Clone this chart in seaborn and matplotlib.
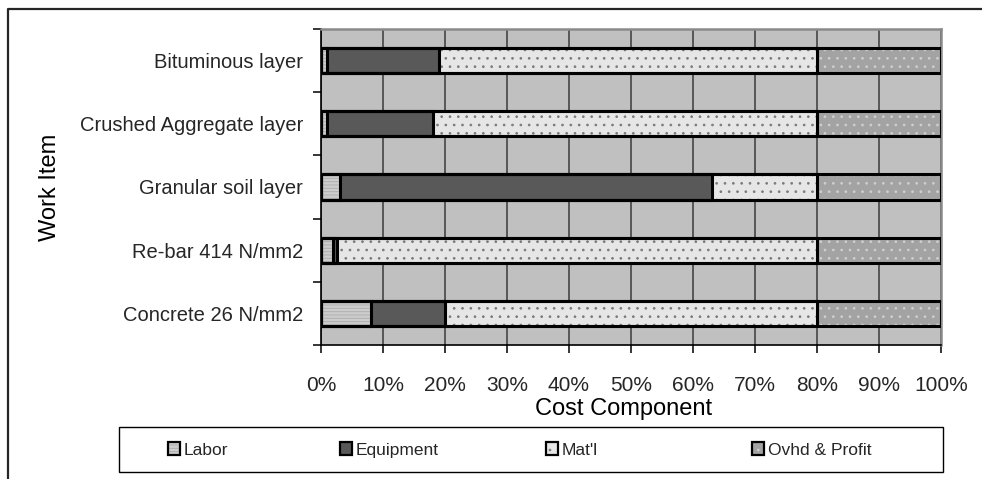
import matplotlib
matplotlib.use("Agg")
import matplotlib.pyplot as plt
from matplotlib.patches import Rectangle, Patch
from matplotlib.lines import Line2D
from matplotlib.legend_handler import HandlerTuple
from matplotlib import font_manager
import pandas as pd
import seaborn as sns

# Cost breakdown (% of unit cost) per work item
work_items = ["Bituminous layer", "Crushed Aggregate layer", "Granular soil layer",
              "Re-bar 414 N/mm2", "Concrete 26 N/mm2"]
labor = [1.0, 1.0, 3.0, 2.0, 8.0]
equipment = [18.0, 17.0, 60.0, 0.6, 12.0]
material = [61.0, 62.0, 17.0, 77.4, 60.0]
overhead = [20.0, 20.0, 20.0, 20.0, 20.0]
components = ["Labor", "Equipment", "Mat'l", "Ovhd & Profit"]
x_ticks = list(range(0, 101, 10))
x_tick_labels = [f"{v}%" for v in x_ticks]

sns.set_theme(style="ticks")
names = {f.name for f in font_manager.fontManager.ttflist}
NARROW = "Liberation Sans Narrow" in names
if NARROW:
    plt.rcParams["font.family"] = ["Liberation Sans Narrow", "Liberation Sans", "DejaVu Sans"]
    fs_tick, fs_cat, fs_title, fs_leg = 18.0, 17.5, 20.5, 16.0
else:
    plt.rcParams["font.family"] = ["Liberation Sans", "DejaVu Sans"]
    fs_tick, fs_cat, fs_title, fs_leg = 15.0, 14.5, 17.0, 12.5
plt.rcParams["hatch.linewidth"] = 0.7

df = pd.DataFrame({"item": work_items, "Labor": labor, "Equipment": equipment,
                   "Mat'l": material, "Ovhd & Profit": overhead})
cum = df[components].cumsum(axis=1)
cum.insert(0, "item", df["item"])

# fill colour, hatch colour, hatch pattern
styles = {
    "Labor": ("#CDCDCD", "#AFAFAF", "-----"),
    "Equipment": ("#595959", "#595959", ""),
    "Mat'l": ("#E6E6E6", "#7A7A7A", ".."),
    "Ovhd & Profit": ("#A3A3A3", "#D0D0D0", ".."),
}

fig = plt.figure(figsize=(9.82, 4.79), dpi=100)
fig.patch.set_facecolor("white")
ax = fig.add_axes([321 / 982, 1 - 345 / 479, 620 / 982, 316 / 479])
ax.set_facecolor("#C0C0C0")

# Stacked bars: draw cumulative totals from the widest down so each segment shows
for comp in reversed(components):
    fill, hcol, hatch = styles[comp]
    sns.barplot(data=cum, x=comp, y="item", order=work_items, orient="h",
                color=fill, saturation=1, width=0.4, errorbar=None,
                edgecolor=hcol, linewidth=0, hatch=hatch, ax=ax, zorder=2)

# Black outlines around every segment
for p in list(ax.patches):
    ax.add_patch(Rectangle(p.get_xy(), p.get_width(), p.get_height(),
                           fill=False, edgecolor="black", linewidth=2.2, zorder=3))

ax.set_xlim(0, 100)
ax.set_ylim(len(work_items) - 0.5, -0.5)
ax.set_axisbelow(True)
ax.xaxis.grid(True, color="#3A3A3A", linewidth=1.1, zorder=0)
ax.yaxis.grid(False)

ax.set_xticks(x_ticks)
ax.set_xticklabels(x_tick_labels, fontsize=fs_tick)
ax.tick_params(axis="x", direction="out", length=6, width=1.1, color="black",
               pad=14 if NARROW else 16)
ax.set_yticks(range(len(work_items)))
ax.set_yticklabels(work_items, fontsize=fs_cat)
ax.tick_params(axis="y", which="major", length=0, pad=13)
ax.set_yticks([i - 0.5 for i in range(len(work_items) + 1)], minor=True)
ax.tick_params(axis="y", which="minor", direction="out", length=6, width=1.1, color="black")

for s in ("left", "bottom"):
    ax.spines[s].set_color("black")
    ax.spines[s].set_linewidth(1.2)
for s in ("top", "right"):
    ax.spines[s].set_color("#8A8A8A")
    ax.spines[s].set_linewidth(1.8)

ax.set_xlabel("Cost Component", fontsize=fs_title, color="black")
ax.xaxis.set_label_coords((624 - 321) / 620, (345 - 409) / 316)
ax.xaxis.label.set_va("center")
ax.set_ylabel("Work Item", fontsize=fs_title, color="black")
ax.yaxis.set_label_coords((50 - 321) / 620, 0.5)
ax.yaxis.label.set_va("center")

# Legend: frame plus four entries spread across it
fig.add_artist(Rectangle((119 / 982, 1 - 472 / 479), 824 / 982, 45 / 479,
                         transform=fig.transFigure, fill=False,
                         edgecolor="black", linewidth=1.0))
leg_x = [168, 340, 546, 752]
fs_px = fs_leg * 100 / 72
for comp, xpix in zip(components, leg_x):
    fill, hcol, hatch = styles[comp]
    handle = (Patch(facecolor=fill, edgecolor=hcol, linewidth=0, hatch=hatch),
              Patch(facecolor="none", edgecolor="black", linewidth=1.6))
    fig.legend([handle], [comp], handler_map={tuple: HandlerTuple(ndivide=1)},
               loc="center left", bbox_to_anchor=(xpix / 982, 1 - 450 / 479),
               frameon=False, fontsize=fs_leg, borderpad=0, borderaxespad=0,
               handlelength=12 / fs_px, handleheight=12 / fs_px,
               handletextpad=4 / fs_px)

# Outer chart border (left and top edges visible)
fig.add_artist(Line2D([8 / 982, 8 / 982, 1.0], [0.0, 1 - 9 / 479, 1 - 9 / 479],
                      transform=fig.transFigure, color="#262626", linewidth=1.6))

fig.savefig("out.png", dpi=100)
